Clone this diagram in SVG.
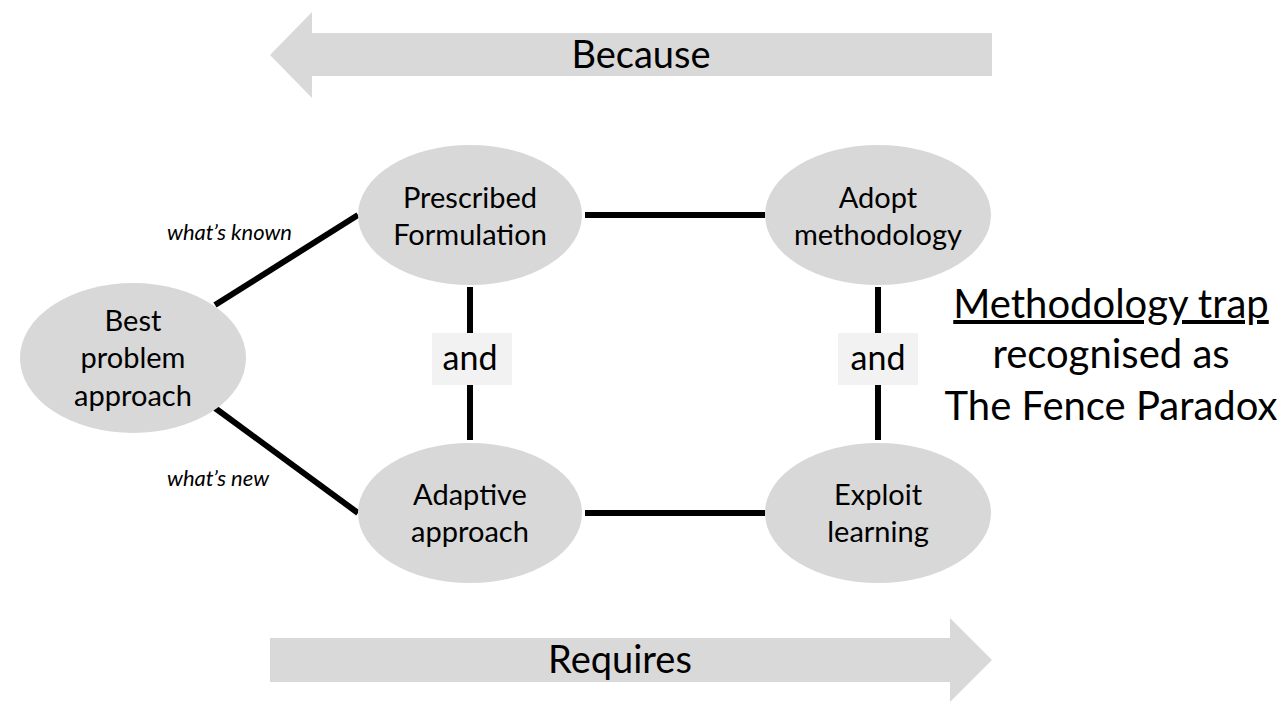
<svg xmlns="http://www.w3.org/2000/svg" width="1280" height="720" viewBox="0 0 1280 720">
<style>
.n{fill:#d8d8d8}
.t{font-family:Lato,"Open Sans",sans-serif;font-size:29px;fill:#000;text-anchor:middle}
.and{font-family:Lato,"Open Sans",sans-serif;font-size:34px;fill:#000;text-anchor:middle}
.big{font-family:Lato,"Open Sans",sans-serif;font-size:38px;fill:#000;text-anchor:middle}
.side{font-family:Lato,"Open Sans",sans-serif;font-size:40px;fill:#000;text-anchor:middle}
.it{font-family:Lato,"Open Sans",sans-serif;font-size:22px;font-style:italic;fill:#000}
.c{stroke:#000;stroke-width:6;fill:none}
.box{fill:#f2f2f2}
</style>
<rect width="1280" height="720" fill="#fff"/>
<g id="because">
<polygon points="992,33 312,33 312,12 270,55 312,98 312,76 992,76" fill="#d9d9d9"/>
<text class="big" x="641" y="68">Because</text>
</g>
<g id="requires">
<polygon points="270,638 950,638 950,618 992,660 950,702 950,682 270,682" fill="#d9d9d9"/>
<text class="big" x="620" y="673">Requires</text>
</g>
<g id="connectors">
<line class="c" x1="215" y1="305" x2="358" y2="215"/>
<line class="c" x1="215" y1="408" x2="358" y2="513"/>
<line class="c" x1="585" y1="215" x2="765" y2="215"/>
<line class="c" x1="585" y1="513" x2="765" y2="513"/>
<line class="c" x1="470" y1="287" x2="470" y2="440"/>
<line class="c" x1="878" y1="287" x2="878" y2="440"/>
<rect class="box" x="432" y="333" width="80" height="52"/>
<text class="and" x="470" y="370">and</text>
<rect class="box" x="838" y="333" width="80" height="52"/>
<text class="and" x="878" y="370">and</text>
<text class="it" x="167" y="240">what’s known</text>
<text class="it" x="167" y="486">what’s new</text>
</g>
<g id="best">
<ellipse class="n" cx="133" cy="358" rx="113" ry="75"/>
<text class="t" x="133" y="331">Best</text>
<text class="t" x="133" y="368">problem</text>
<text class="t" x="133" y="406">approach</text>
</g>
<g id="prescribed">
<ellipse class="n" cx="470" cy="215" rx="112" ry="70"/>
<text class="t" x="470" y="208">Prescribed</text>
<text class="t" x="470" y="245">Formulation</text>
</g>
<g id="adopt">
<ellipse class="n" cx="878" cy="215" rx="113" ry="70"/>
<text class="t" x="878" y="208">Adopt</text>
<text class="t" x="878" y="245">methodology</text>
</g>
<g id="adaptive">
<ellipse class="n" cx="470" cy="513" rx="112" ry="70"/>
<text class="t" x="470" y="505">Adaptive</text>
<text class="t" x="470" y="542">approach</text>
</g>
<g id="exploit">
<ellipse class="n" cx="878" cy="513" rx="113" ry="70"/>
<text class="t" x="878" y="505">Exploit</text>
<text class="t" x="878" y="542">learning</text>
</g>
<g id="trap">
<text class="side" x="1111" y="318" text-decoration="underline">Methodology trap</text>
<text class="side" x="1111" y="368">recognised as</text>
<text class="side" x="1111" y="420">The Fence Paradox</text>
</g>
</svg>
